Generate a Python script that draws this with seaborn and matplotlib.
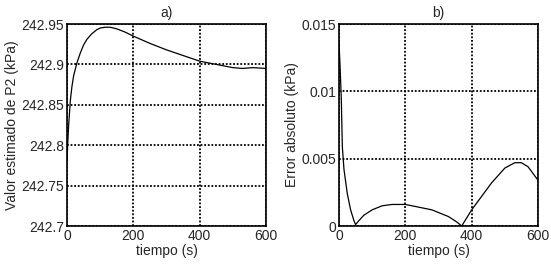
import pandas as pd
import matplotlib.pyplot as plt
import seaborn as sns

# a) estimated P2 value
t_a = [0, 2, 5, 10, 15, 20, 30, 40, 50, 60, 75, 90, 100, 115, 130, 150, 175, 200, 250, 300, 350, 400,
       450, 500, 530, 560, 600]
p2 = [242.780, 242.80, 242.825, 242.855, 242.873, 242.886, 242.902, 242.914, 242.924, 242.931, 242.938,
      242.943, 242.945, 242.946, 242.946, 242.944, 242.940, 242.935, 242.926, 242.918, 242.911, 242.904,
      242.900, 242.896, 242.895, 242.896, 242.895]

# b) absolute error
t_b = [0, 3, 7, 10, 15, 25, 35, 45, 50, 60, 75, 100, 130, 160, 200, 240, 280, 330, 355, 370, 385, 400,
       430, 460, 500, 530, 550, 570, 600]
err = [0.0136, 0.0120, 0.0094, 0.0059, 0.0042, 0.0024, 0.0012, 0.0004, 0.0001, 0.0004, 0.0008, 0.0012,
       0.0015, 0.0016, 0.0016, 0.0014, 0.0012, 0.0007, 0.0003, 0.0, 0.0006, 0.0012, 0.0022, 0.0032,
       0.0043, 0.0047, 0.0047, 0.0044, 0.0034]

df_a = pd.DataFrame({'t': t_a, 'p2': p2})
df_b = pd.DataFrame({'t': t_b, 'err': err})

sns.set_style('white')
plt.rcParams['font.family'] = ['Liberation Sans', 'DejaVu Sans']
plt.rcParams['font.size'] = 10

fig = plt.figure(figsize=(5.51, 2.68), dpi=100)
ax1 = fig.add_axes([67/551, 1-226/268, 199/551, 202/268])
ax2 = fig.add_axes([339/551, 1-226/268, 199/551, 202/268])

sns.lineplot(x='t', y='p2', data=df_a, ax=ax1, color='black', linewidth=0.9)
ax1.set_xlim(0, 600)
ax1.set_ylim(242.7, 242.95)
ax1.set_xticks([0, 200, 400, 600])
ax1.set_yticks([242.7, 242.75, 242.8, 242.85, 242.9, 242.95])
ax1.set_yticklabels(['242.7', '242.75', '242.8', '242.85', '242.9', '242.95'])
ax1.set_xlabel('tiempo (s)', labelpad=1)
ax1.set_ylabel('Valor estimado de P2 (kPa)', labelpad=2)
ax1.set_title('a)', fontsize=10, pad=5)

sns.lineplot(x='t', y='err', data=df_b, ax=ax2, color='black', linewidth=0.9)
ax2.set_xlim(0, 600)
ax2.set_ylim(0, 0.015)
ax2.set_xticks([0, 200, 400, 600])
ax2.set_yticks([0, 0.005, 0.01, 0.015])
ax2.set_yticklabels(['0', '0.005', '0.01', '0.015'])
ax2.set_xlabel('tiempo (s)', labelpad=1)
ax2.set_ylabel('Error absoluto (kPa)', labelpad=2)
ax2.set_title('b)', fontsize=10, pad=5)

for ax in (ax1, ax2):
    ax.grid(True, color='black', linestyle=(0, (1, 1)), linewidth=1.3)
    ax.tick_params(length=0, pad=2, labelsize=10)
    for s in ax.spines.values():
        s.set_color('black')
        s.set_linewidth(1.2)

fig.savefig('out.png', dpi=100)
